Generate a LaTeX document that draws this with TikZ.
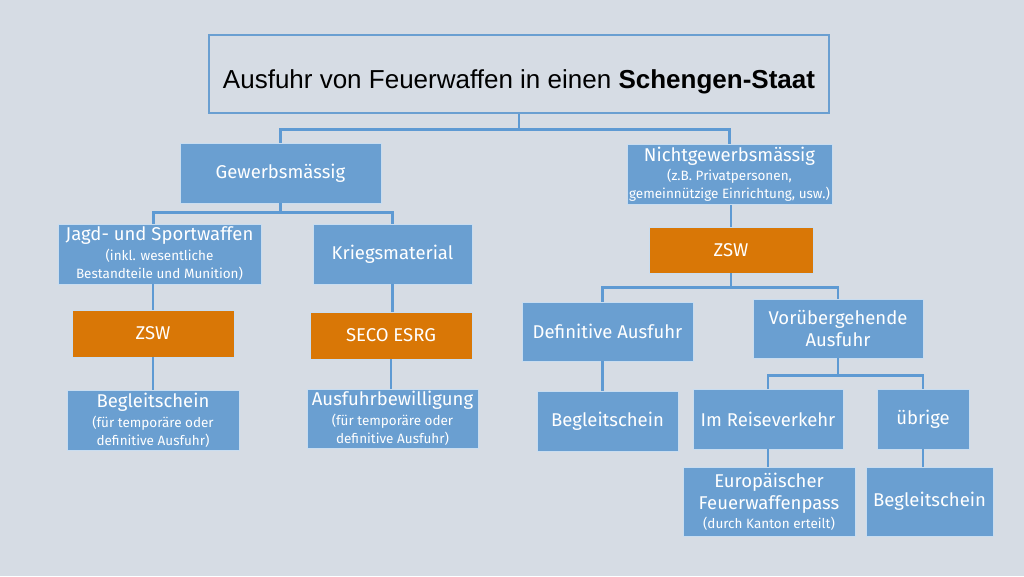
\documentclass[tikz,border=0pt]{standalone}
\usepackage{fontspec}
\setmainfont{Fira Sans}
\newfontfamily\titlefont{Liberation Sans}
\definecolor{bg}{HTML}{D6DCE4}
\definecolor{boxblue}{HTML}{6A9FD1}
\definecolor{boxedge}{HTML}{C9DDF0}
\definecolor{orangebox}{HTML}{D97706}
\definecolor{conn}{HTML}{5E9AD3}
\definecolor{titleedge}{HTML}{6A9FD1}
\tikzset{
  bbox/.style={rectangle, fill=boxblue, draw=boxedge, line width=0.8pt, text=white, align=center, inner sep=2pt, font=\fontsize{18.5}{22}\selectfont},
  obox/.style={bbox, fill=orangebox},
  conline/.style={draw=conn, line width=2.6pt},
}
\newcommand{\sub}[1]{{\fontsize{13.5}{15}\selectfont #1}}
\begin{document}
\begin{tikzpicture}[x=1pt,y=-1pt]
\fill[bg] (0,0) rectangle (1024,576);
\useasboundingbox (0,0) rectangle (1024,576);
% title
\node[draw=titleedge, line width=2.4pt, fill=bg, minimum width=620, minimum height=78, text height=28pt, text depth=0pt, font=\titlefont\fontsize{26}{30}\selectfont] (title) at (519,74) {Ausfuhr von Feuerwaffen in einen \textbf{Schengen-Staat}};
% left branch
\node[bbox, minimum width=201, minimum height=60] (gew) at (280.5,173) {Gewerbsmässig};
\node[bbox, minimum width=203, minimum height=60] (jagd) at (159.5,254) {Jagd- und Sportwaffen\\[-2pt]\sub{(inkl. wesentliche}\\[-4pt]\sub{Bestandteile und Munition)}};
\node[bbox, minimum width=159, minimum height=60] (krieg) at (392.5,254) {Kriegsmaterial};
\node[obox, minimum width=162, minimum height=47] (zswL) at (153,333.5) {ZSW};
\node[obox, minimum width=162, minimum height=47] (seco) at (391,335.5) {SECO ESRG};
\node[bbox, minimum width=172, minimum height=60] (begL) at (153,420.5) {Begleitschein\\[-2pt]\sub{(für temporäre oder}\\[-4pt]\sub{definitive Ausfuhr)}};
\node[bbox, minimum width=171, minimum height=59] (ausb) at (392.5,418.5) {Ausfuhrbewilligung\\[-2pt]\sub{(für temporäre oder}\\[-4pt]\sub{definitive Ausfuhr)}};
% right branch
\node[bbox, minimum width=203, minimum height=60] (nicht) at (729.5,174.5) {Nichtgewerbsmässig\\[-3pt]\sub{(z.B. Privatpersonen,}\\[-4pt]\sub{gemeinnützige Einrichtung, usw.)}};
\node[obox, minimum width=164, minimum height=46] (zswR) at (731,250) {ZSW};
\node[bbox, minimum width=171, minimum height=59] (def) at (607.5,331.5) {Definitive Ausfuhr};
\node[bbox, minimum width=170, minimum height=59] (vor) at (838,328.5) {Vorübergehende\\Ausfuhr};
\node[bbox, minimum width=141, minimum height=60] (begM) at (607.5,421) {Begleitschein};
\node[bbox, minimum width=150, minimum height=60] (reise) at (768,419) {Im Reiseverkehr};
\node[bbox, minimum width=92, minimum height=60] (ueb) at (923,419) {übrige};
\node[bbox, minimum width=172, minimum height=69] (eur) at (769,501.5) {Europäischer\\Feuerwaffenpass\\[-3pt]\sub{(durch Kanton erteilt)}};
\node[bbox, minimum width=127, minimum height=69] (begR) at (929.5,501.5) {Begleitschein};
% connectors
\begin{scope}[conline]
\draw (title.south) -- ++(0,15) coordinate (tb) -| (gew.north);
\draw (tb) -| (nicht.north);
\draw (gew.south) -- ++(0,9) coordinate (gb) -| ([xshift=-6pt]jagd.north);
\draw (gb) -| (krieg.north);
\draw (zswL.north) -- (zswL.north |- jagd.south);
\draw (zswL.south) -- (begL.north);
\draw (krieg.south) -- (krieg.south |- seco.north);
\draw (seco.south) -- (seco.south |- ausb.north);
\draw (zswR.north) -- (zswR.north |- nicht.south);
\draw (zswR.south) -- ++(0,14) coordinate (zb) -| ([xshift=-5pt]def.north);
\draw (zb) -| (vor.north);
\draw ([xshift=-5pt]def.south) -- ([xshift=-5pt]def.south |- begM.north);
\draw (vor.south) -- ++(0,17) coordinate (vb) -| (reise.north);
\draw (vb) -| (ueb.north);
\draw (reise.south) -- (reise.south |- eur.north);
\draw (ueb.south) -- (ueb.south |- begR.north);
\end{scope}
\end{tikzpicture}
\end{document}
